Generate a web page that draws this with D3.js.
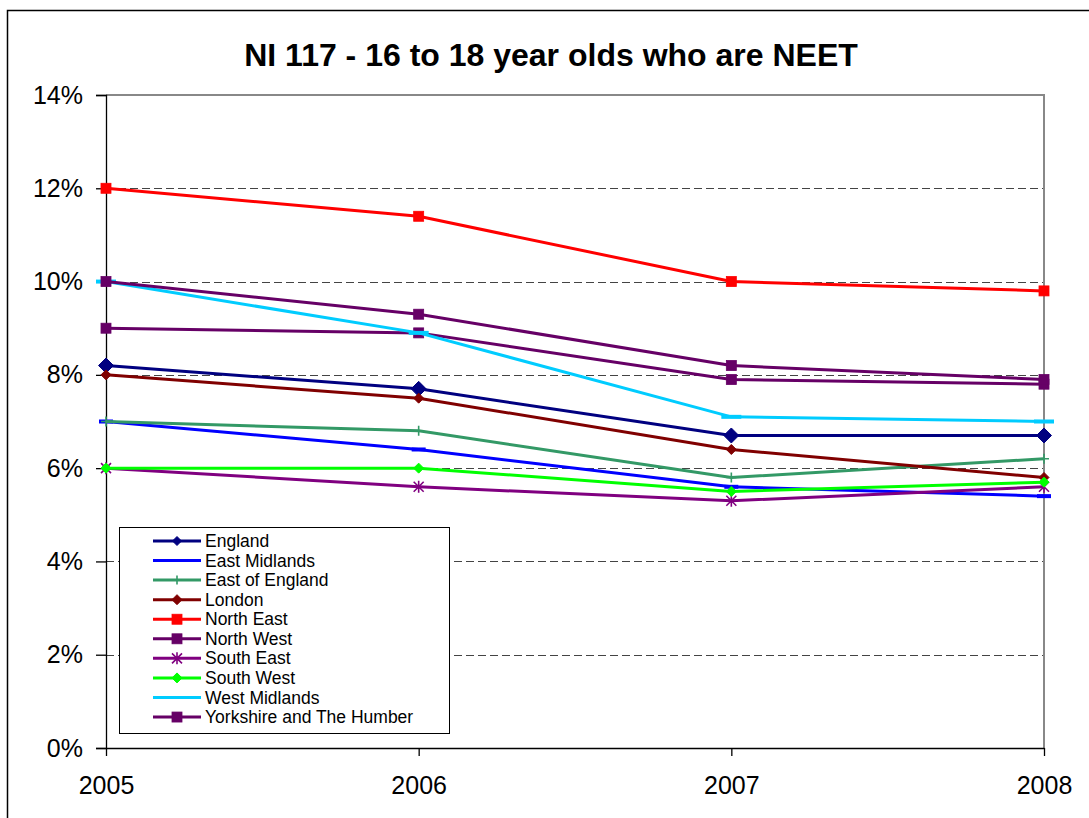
<!DOCTYPE html>
<html>
<head>
<meta charset="utf-8">
<script src="https://cdn.jsdelivr.net/npm/d3@7"></script>
<style>
  html, body { margin: 0; padding: 0; background: #fff; }
  svg { display: block; font-family: "Liberation Sans", Arial, sans-serif; }
</style>
</head>
<body>
<svg id="chart" width="1089" height="818"></svg>
<script>
// ---- data ----
const years = ["2005", "2006", "2007", "2008"];
const yTicks = [0, 2, 4, 6, 8, 10, 12, 14];
const seriesNames = ["England", "East Midlands", "East of England", "London", "North East",
  "North West", "South East", "South West", "West Midlands", "Yorkshire and The Humber"];
const england       = [8.2, 7.7, 6.7, 6.7];
const eastMidlands  = [7.0, 6.4, 5.6, 5.4];
const eastOfEngland = [7.0, 6.8, 5.8, 6.2];
const london        = [8.0, 7.5, 6.4, 5.8];
const northEast     = [12.0, 11.4, 10.0, 9.8];
const northWest     = [9.0, 8.9, 7.9, 7.8];
const southEast     = [6.0, 5.6, 5.3, 5.6];
const southWest     = [6.0, 6.0, 5.5, 5.7];
const westMidlands  = [10.0, 8.9, 7.1, 7.0];
const yorkshire     = [10.0, 9.3, 8.2, 7.9];
const seriesValues = [england, eastMidlands, eastOfEngland, london, northEast,
  northWest, southEast, southWest, westMidlands, yorkshire];
const seriesColors = ["#000080", "#0000FF", "#339966", "#800000", "#FF0000",
  "#660066", "#800080", "#00FF00", "#00CCFF", "#660066"];
const seriesMarkers = ["diamond", "dash", "plus", "diamond", "square",
  "square", "star", "diamond", "dash", "square"];
const markerSizes = [7.5, 7, 5, 5, 5, 5, 5, 5, 10, 5];
const legendMarkerSizes = [4.5, 5, 4.5, 5, 5, 5, 5, 5, 6, 5];

// ---- layout ----
const svg = d3.select("#chart");
const L = 106, R = 1044, T = 95, B = 748;

const x = d3.scalePoint().domain(years).range([L, R]);
const y = d3.scaleLinear().domain([0, 14]).range([B, T]);

// outer border
svg.append("path")
  .attr("d", `M7.5,830 L7.5,10.5 L1100,10.5`)
  .attr("fill", "none").attr("stroke", "#000").attr("stroke-width", 1.5);

// title
svg.append("text")
  .attr("x", 551).attr("y", 66)
  .attr("text-anchor", "middle")
  .attr("font-weight", "bold")
  .attr("font-size", 32)
  .text("NI 117 - 16 to 18 year olds who are NEET");

// gridlines
svg.append("g").selectAll("line")
  .data(yTicks.filter(d => d > 0 && d < 14))
  .join("line")
  .attr("x1", L).attr("x2", R)
  .attr("y1", d => Math.round(y(d)) + 0.5).attr("y2", d => Math.round(y(d)) + 0.5)
  .attr("stroke", "#444").attr("stroke-width", 1.2)
  .attr("stroke-dasharray", "8,4");

// plot frame (top & right gray)
svg.append("path")
  .attr("d", `M${L},${T} L${R},${T} L${R},${B}`)
  .attr("fill", "none").attr("stroke", "#888").attr("stroke-width", 2);

// y axis
const yAxis = d3.axisLeft(y).tickValues(yTicks).tickSize(10).tickPadding(13)
  .tickFormat(d => d + "%");
const gy = svg.append("g").attr("transform", `translate(${L},0)`).call(yAxis);
gy.select(".domain").attr("stroke", "#000").attr("stroke-width", 1.3);
gy.selectAll(".tick line").attr("stroke", "#000").attr("stroke-width", 1.3);
gy.selectAll(".tick text").attr("font-size", 25).attr("fill", "#000")
  .attr("font-family", "Liberation Sans, Arial, sans-serif");

// x axis
const xAxis = d3.axisBottom(x).tickSize(8).tickPadding(20).tickSizeOuter(0);
const gx = svg.append("g").attr("transform", `translate(0,${B})`).call(xAxis);
gx.select(".domain").attr("stroke", "#000").attr("stroke-width", 1.3);
gx.selectAll(".tick line").attr("stroke", "#000").attr("stroke-width", 1.3);
gx.selectAll(".tick text").attr("font-size", 25).attr("fill", "#000")
  .attr("font-family", "Liberation Sans, Arial, sans-serif");

// marker drawing
function drawMarker(g, type, cx, cy, r, color) {
  if (type === "diamond") {
    g.append("path").attr("d", `M${cx},${cy - r} L${cx + r},${cy} L${cx},${cy + r} L${cx - r},${cy} Z`)
      .attr("fill", color).attr("stroke", color).attr("stroke-width", 1);
  } else if (type === "square") {
    g.append("rect").attr("x", cx - r).attr("y", cy - r).attr("width", 2 * r).attr("height", 2 * r)
      .attr("fill", color).attr("stroke", color).attr("stroke-width", 0.8);
  } else if (type === "plus") {
    g.append("path").attr("d", `M${cx - r},${cy} L${cx + r},${cy} M${cx},${cy - r} L${cx},${cy + r}`)
      .attr("stroke", color).attr("stroke-width", 1.6).attr("fill", "none");
  } else if (type === "star") {
    g.append("path").attr("d", `M${cx - r},${cy - r} L${cx + r},${cy + r} M${cx - r},${cy + r} L${cx + r},${cy - r} M${cx},${cy - r - 1} L${cx},${cy + r + 1}`)
      .attr("stroke", color).attr("stroke-width", 1.6).attr("fill", "none");
  } else if (type === "dash") {
    g.append("rect").attr("x", cx - r).attr("y", cy - 2).attr("width", 2 * r).attr("height", 4)
      .attr("fill", color);
  }
}

// series
const line = d3.line().x((d, i) => x(years[i])).y(d => y(d));
seriesValues.forEach((vals, si) => {
  const g = svg.append("g");
  g.append("path").datum(vals).attr("d", line)
    .attr("fill", "none").attr("stroke", seriesColors[si]).attr("stroke-width", 3)
    .attr("stroke-linejoin", "round");
  vals.forEach((v, i) => drawMarker(g, seriesMarkers[si], x(years[i]), y(v), markerSizes[si], seriesColors[si]));
});

// legend
const lg = svg.append("g");
lg.append("rect").attr("x", 119.5).attr("y", 527.5).attr("width", 330).attr("height", 206)
  .attr("fill", "#fff").attr("stroke", "#000").attr("stroke-width", 1);
seriesNames.forEach((name, i) => {
  const cy = 541 + i * 19.56;
  lg.append("line").attr("x1", 153).attr("x2", 201).attr("y1", cy).attr("y2", cy)
    .attr("stroke", seriesColors[i]).attr("stroke-width", 3);
  if (seriesMarkers[i] !== "dash")
    drawMarker(lg, seriesMarkers[i], 177, cy, legendMarkerSizes[i], seriesColors[i]);
  lg.append("text").attr("x", 205).attr("y", cy).attr("dy", "0.35em")
    .attr("font-size", 17.5).attr("fill", "#000").text(name);
});
</script>
</body>
</html>
